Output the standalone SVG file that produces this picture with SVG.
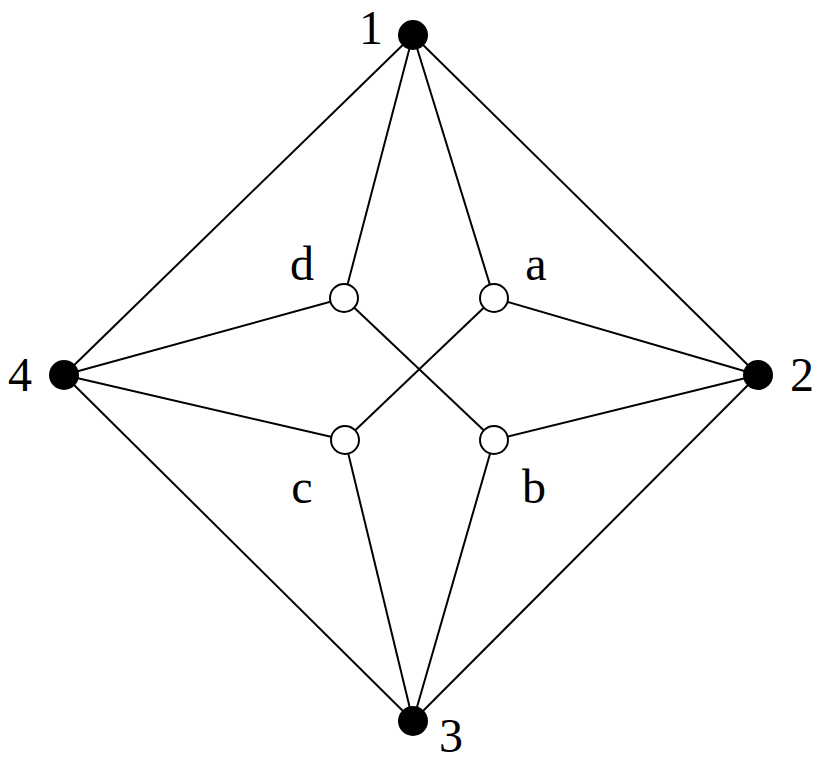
<svg xmlns="http://www.w3.org/2000/svg" width="827" height="763" viewBox="0 0 827 763">
<style>
.e{stroke:#000;stroke-width:2;fill:none}
.b{fill:#000}
.w{fill:#fff;stroke:#000;stroke-width:2}
text{font-family:"Liberation Serif","Times New Roman",serif;font-size:48px;fill:#000;text-anchor:middle}
</style>
<rect width="827" height="763" fill="#fff"/>
<g id="connectors">
<line class="e" x1="413" y1="35" x2="64" y2="375"/>
<line class="e" x1="413" y1="35" x2="758" y2="375"/>
<line class="e" x1="758" y1="375" x2="413" y2="721"/>
<line class="e" x1="64" y1="375" x2="413" y2="721"/>
<line class="e" x1="413" y1="35" x2="344" y2="298"/>
<line class="e" x1="413" y1="35" x2="494" y2="298"/>
<line class="e" x1="758" y1="375" x2="494" y2="298"/>
<line class="e" x1="758" y1="375" x2="494" y2="440"/>
<line class="e" x1="413" y1="721" x2="345" y2="440"/>
<line class="e" x1="413" y1="721" x2="494" y2="440"/>
<line class="e" x1="64" y1="375" x2="344" y2="298"/>
<line class="e" x1="64" y1="375" x2="345" y2="440"/>
<line class="e" x1="344" y1="298" x2="494" y2="440"/>
<line class="e" x1="494" y1="298" x2="345" y2="440"/>
</g>
<g id="n1"><circle class="b" cx="413" cy="35" r="15"/><text x="371" y="44">1</text></g>
<g id="n2"><circle class="b" cx="758" cy="375" r="15"/><text x="802" y="391">2</text></g>
<g id="n3"><circle class="b" cx="413" cy="721" r="15"/><text x="451" y="752">3</text></g>
<g id="n4"><circle class="b" cx="64" cy="375" r="15"/><text x="20" y="391">4</text></g>
<g id="nd"><circle class="w" cx="344" cy="298" r="14"/><text x="302" y="280">d</text></g>
<g id="na"><circle class="w" cx="494" cy="298" r="14"/><text x="536" y="280">a</text></g>
<g id="nc"><circle class="w" cx="345" cy="440" r="14"/><text x="302" y="503">c</text></g>
<g id="nb"><circle class="w" cx="494" cy="440" r="14"/><text x="534" y="503">b</text></g>
</svg>
